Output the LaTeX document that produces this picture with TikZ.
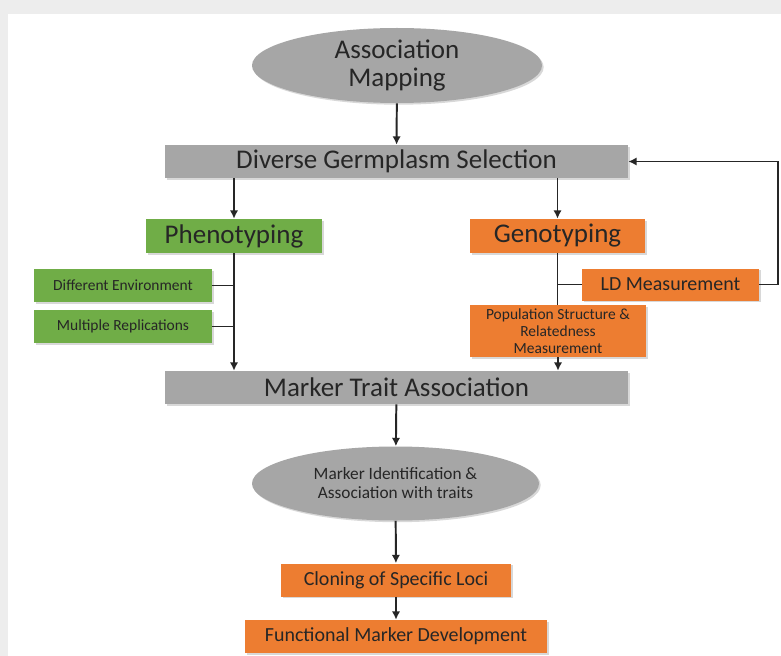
\documentclass[tikz,border=0pt]{standalone}
\usepackage{fontspec}
\setmainfont{Carlito}
\usetikzlibrary{arrows.meta,shapes.geometric,shadows,calc}

\definecolor{boxgray}{HTML}{A6A6A6}
\definecolor{boxgreen}{HTML}{70AD47}
\definecolor{boxorange}{HTML}{ED7D31}
\definecolor{inkgray}{HTML}{262626}
\definecolor{pagegray}{HTML}{EDEDED}

\def\u{0.025cm}
\tikzset{
  box/.style={rectangle, fill=#1, text=inkgray, align=center, inner sep=0pt,
    drop shadow={opacity=0.3, shadow xshift=1.2pt, shadow yshift=-1.2pt}},
  oval/.style={ellipse, fill=boxgray, text=inkgray, align=center, inner sep=0pt,
    drop shadow={opacity=0.3, shadow xshift=1.2pt, shadow yshift=-1.2pt}},
  big/.style={font=\fontsize{19.2}{20.6}\selectfont},
  mid/.style={font=\fontsize{14.2}{16}\selectfont},
  small/.style={font=\fontsize{11}{12}\selectfont},
  wire/.style={draw=black!85, line width=1.4pt},
  link/.style={wire, -{Latex[length=6pt,width=6pt]}}
}

\begin{document}
\begin{tikzpicture}[x=\u, y=-\u]
      % page
      \fill[pagegray] (0,0) rectangle (781,656);
      \fill[white] (8,14) rectangle (781,656);

      % main column
      \node[oval, big, minimum width=290*\u, minimum height=75*\u] (map) at (397,65.5) {Association\\Mapping};
      \node[box=boxgray, big, minimum width=463*\u, minimum height=33*\u] (dgs) at (396.5,161.5) {Diverse Germplasm Selection};
      \node[box=boxgray, big, minimum width=463*\u, minimum height=33*\u] (mta) at (396.5,387.5) {Marker Trait Association};
      \node[oval, font=\fontsize{12.3}{13.5}\selectfont, minimum width=287*\u, minimum height=74*\u] (ident) at (395.5,483.5) {Marker Identification \&\\Association with traits};
      \node[box=boxorange, mid, minimum width=230*\u, minimum height=33*\u] (clone) at (396,580) {Cloning of Specific Loci};
      \node[box=boxorange, mid, minimum width=302*\u, minimum height=33*\u] (func) at (396,636.5) {Functional Marker Development};

      % phenotyping side
      \node[box=boxgreen, big, minimum width=176*\u, minimum height=34*\u] (phe) at (234,236) {Phenotyping};
      \node[box=boxgreen, small, minimum width=178*\u, minimum height=33*\u] (env) at (123,285.5) {Different Environment};
      \node[box=boxgreen, small, minimum width=178*\u, minimum height=33*\u] (rep) at (123,326.5) {Multiple Replications};

      % genotyping side
      \node[box=boxorange, big, minimum width=175*\u, minimum height=34*\u] (gen) at (557.5,236) {Genotyping};
      \node[box=boxorange, mid, minimum width=177*\u, minimum height=32*\u] (ld) at (670.5,284.5) {LD Measurement};
      \node[box=boxorange, small, minimum width=176*\u, minimum height=52*\u] (pop) at (558,331) {Population Structure \&\\Relatedness\\Measurement};

      \draw[link] (map) -- (dgs);
      \draw[link] (phe |- dgs.south) -- (phe.north);
      \draw[link] (gen |- dgs.south) -- (gen.north);

      \draw[link] (phe.south) -- (phe.south |- mta.north);
      \foreach \n in {env,rep}
        \draw[wire] (\n.east) -- (\n.east -| phe.south);

      \draw[wire] (gen.south) -- (gen.south |- pop.north);
      \draw[wire] (ld.west) -- (ld.west -| gen.south);
      \draw[link] (pop.south) -- (pop.south |- mta.north);
      \draw[link] (ld.east) -- ++(19,0) |- (dgs.east);

      \draw[link] (mta) -- (ident);
      \draw[link] (ident) -- (clone);
      \draw[link] (clone) -- (func);
    \end{tikzpicture}
\end{document}
